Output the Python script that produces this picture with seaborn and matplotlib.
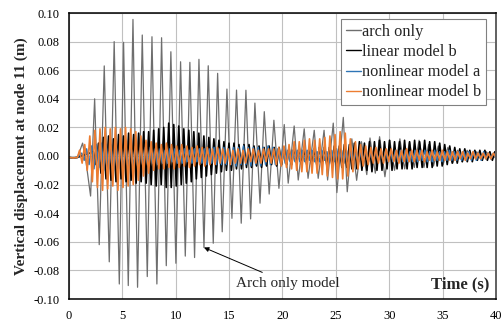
import numpy as np
import pandas as pd
import matplotlib
matplotlib.use("Agg")
import matplotlib.pyplot as plt
import seaborn as sns

# flat part before the excitation starts (shared by all four curves)
flat_t = [0.0, 0.4, 0.8]
flat_v = [-0.001, -0.0014, -0.001]

# arch only: extrema times (s) and values (m)
arch_t = [1.28, 1.6, 2.03, 2.41, 2.84, 3.31, 3.78, 4.24, 4.72, 5.12, 5.56, 6.0,
          6.43, 6.87, 7.34, 7.78, 8.24, 8.68, 9.12, 9.55, 10.02, 10.46, 10.9,
          11.33, 11.77, 12.18, 12.65, 13.05, 13.52, 13.93, 14.36, 14.8, 15.27,
          15.7, 16.14, 16.58, 17.02, 17.42, 17.9, 18.3, 18.76, 19.2, 19.67,
          20.17, 20.54, 21.1, 21.48, 22.04, 22.4, 22.98, 23.35, 23.9, 24.23,
          24.76, 25.1, 25.7, 26.07, 26.5, 26.95, 27.4, 27.9, 28.2, 28.7, 29.1,
          29.6, 30.05, 30.5, 31.0, 31.45, 31.9, 32.35, 32.8, 33.25, 33.7, 34.15,
          34.6, 35.05, 35.5, 35.95, 36.4, 36.85, 37.3, 37.75, 38.2, 38.65, 39.1,
          39.55, 40.0]
arch_v = [0.009, -0.004, -0.028, 0.040, -0.062, 0.063, -0.074, 0.080, -0.0895,
          0.0795, -0.0906, 0.0955, -0.0918, 0.0846, -0.0843, 0.0834, -0.0895,
          0.0827, -0.0767, 0.0729, -0.075, 0.0659, -0.070, 0.0655, -0.071,
          0.0676, -0.064, 0.0631, -0.061, 0.0578, -0.053, 0.0468, -0.0436,
          0.0461, -0.047, 0.046, -0.044, 0.037, -0.033, 0.031, -0.0266, 0.025,
          -0.0226, 0.022, -0.019, 0.021, -0.0168, 0.019, -0.0156, 0.018,
          -0.0156, 0.018, -0.0168, 0.023, -0.0256, 0.027, -0.025, 0.012, -0.017,
          0.010, -0.013, 0.0126, -0.012, 0.0135, -0.0145, 0.011, -0.010, 0.012,
          -0.009, 0.010, -0.008, 0.011, -0.008, 0.008, -0.007, 0.007, -0.006,
          0.006, -0.005, 0.004, -0.004, 0.004, -0.003, 0.003, -0.003, 0.003,
          -0.002, 0.0]

# linear model b: successive extrema between lin_start and lin_end
lin_start, lin_end = 2.3, 39.9
lin_v = [0.003, -0.006, 0.009, -0.012,
         0.013, -0.016, 0.014, -0.017, 0.012, -0.018, 0.015, -0.016, 0.014,
         -0.018, 0.016, -0.017, 0.015, -0.019, 0.016, -0.018, 0.017,
         -0.019, 0.017, -0.020, 0.018, -0.021, 0.019, -0.020, 0.020,
         -0.022, 0.023, -0.022, 0.022, -0.021, 0.021, -0.020, 0.019,
         -0.019, 0.018, -0.018, 0.017, -0.016, 0.016, -0.015,
         0.014, -0.014, 0.013, -0.013, 0.012, -0.012, 0.011, -0.011, 0.010,
         -0.010, 0.009, -0.010, 0.009, -0.009, 0.008, -0.009, 0.008, -0.008,
         0.008, -0.008, 0.007,
         -0.007, 0.007, -0.008, 0.006, -0.007, 0.007, -0.006, 0.006, -0.007,
         0.006, -0.006, 0.006,
         -0.006, 0.005, -0.006, 0.006, -0.005, 0.006, -0.006, 0.005, -0.006,
         0.006, -0.006, 0.005, -0.006, 0.006, -0.005, 0.006, -0.006, 0.006,
         -0.006, 0.007,
         -0.007, 0.007, -0.008, 0.008, -0.008, 0.008, -0.009, 0.009,
         -0.009, 0.010, -0.010, 0.009, -0.010, 0.010, -0.011, 0.010, -0.010,
         0.011, -0.010, 0.010, -0.009, 0.011, -0.010, 0.010, -0.009, 0.010,
         -0.009, 0.011, -0.009, 0.010,
         -0.009, 0.011, -0.008, 0.010, -0.008, 0.011, -0.008, 0.010, -0.008,
         0.010, -0.007, 0.009, -0.007, 0.008, -0.006, 0.007,
         -0.005, 0.006, -0.005, 0.005, -0.004, 0.005, -0.004, 0.004, -0.004,
         0.004, -0.003, 0.004, -0.003, 0.004, -0.003, 0.003, -0.003, 0.003]

# nonlinear model a
nla_start, nla_end = 1.2, 40.0
nla_v = [0.002, -0.003, 0.005, -0.006,
         0.007, -0.009, 0.008, -0.008, 0.009, -0.010, 0.008, -0.009, 0.008,
         -0.010, 0.009, -0.009, 0.008, -0.009, 0.007, -0.008, 0.008, -0.008,
         0.007, -0.007, 0.006, -0.007, 0.006, -0.006, 0.006,
         -0.005, 0.005, -0.006, 0.005, -0.005, 0.004, -0.005, 0.005, -0.004,
         0.005, -0.005, 0.004, -0.005, 0.005, -0.004, 0.004, -0.005, 0.005,
         -0.004, 0.005, -0.005, 0.005, -0.006, 0.005, -0.005, 0.006, -0.006,
         0.005, -0.006, 0.006, -0.006, 0.005,
         -0.006, 0.006, -0.007, 0.006, -0.006, 0.007, -0.006, 0.006, -0.007,
         0.006, -0.006, 0.006, -0.007, 0.006, -0.006, 0.007, -0.006, 0.006,
         -0.006, 0.005, -0.005, 0.005, -0.005, 0.004, -0.004, 0.004, -0.004,
         0.004, -0.004, 0.004,
         -0.004, 0.004, -0.003, 0.004, -0.004, 0.003, -0.004, 0.004, -0.003,
         0.003, -0.004, 0.004, -0.004, 0.005, -0.004, 0.004, -0.005, 0.004,
         -0.004, 0.004, -0.004, 0.003, -0.004, 0.004, -0.003, 0.004, -0.004,
         0.003, -0.004, 0.004, -0.003, 0.004, -0.004, 0.004, -0.004, 0.003,
         -0.004, 0.004, -0.004, 0.004,
         -0.004, 0.004, -0.004, 0.003, -0.004, 0.004, -0.004, 0.004, -0.003,
         0.004, -0.004, 0.003, -0.004, 0.004, -0.003, 0.003, -0.004, 0.003,
         -0.003, 0.004, -0.003, 0.003, -0.003, 0.003, -0.003, 0.003, -0.003,
         0.003, -0.003, 0.003, -0.003, 0.002, -0.003, 0.003, -0.002, 0.002,
         -0.002, 0.002, -0.002]

# nonlinear model b
nlb_start, nlb_end = 1.0, 40.0
nlb_v = [0.004, -0.005, 0.008, -0.010,
         0.014, -0.018, 0.018, -0.022, 0.019, -0.024, 0.020, -0.023, 0.019,
         -0.021, 0.020, -0.024, 0.019, -0.022, 0.020, -0.021, 0.019, -0.020,
         0.017, -0.017, 0.014, -0.014, 0.011, -0.012,
         0.010, -0.010, 0.009, -0.009, 0.008, -0.009, 0.009, -0.008, 0.008,
         -0.009, 0.007, -0.008, 0.008, -0.007, 0.007, -0.008, 0.006, -0.007,
         0.007, -0.006, 0.006, -0.007, 0.006, -0.006, 0.005, -0.006, 0.006,
         -0.005, 0.005,
         -0.005, 0.005, -0.006, 0.004, -0.005, 0.005, -0.005, 0.004, -0.005,
         0.005, -0.004, 0.005, -0.005, 0.004, -0.005, 0.005, -0.004, 0.005,
         -0.005, 0.005, -0.006, 0.006, -0.007, 0.007,
         -0.008, 0.008, -0.009, 0.010, -0.010, 0.010, -0.011, 0.011, -0.011,
         0.012, -0.012, 0.011, -0.012, 0.012, -0.013, 0.013, -0.014, 0.014,
         -0.015, 0.015, -0.016, 0.017, -0.016, 0.016,
         -0.014, 0.012, -0.011, 0.010, -0.009, 0.008, -0.007, 0.007, -0.006,
         0.006, -0.005, 0.006, -0.005, 0.005, -0.005, 0.005,
         -0.004, 0.005, -0.004, 0.004, -0.005, 0.004, -0.004, 0.005, -0.004,
         0.004, -0.004, 0.004, -0.003, 0.004, -0.004, 0.003, -0.003, 0.004,
         -0.003, 0.003, -0.003, 0.004, -0.003, 0.003, -0.003, 0.003, -0.003,
         0.003, -0.002, 0.003, -0.003, 0.002, -0.002, 0.003, -0.002, 0.002,
         -0.002, 0.002, -0.002, 0.002, -0.002, 0.002, -0.001]

names = ["arch only", "linear model b", "nonlinear model a", "nonlinear model b"]
colors = ["#6E6E6E", "#000000", "#2E75B6", "#ED7D31"]
widths = [0.9, 1.2, 1.1, 1.2]
x_ticks = [0, 5, 10, 15, 20, 25, 30, 35, 40]
y_ticks = [-0.10, -0.08, -0.06, -0.04, -0.02, 0.00, 0.02, 0.04, 0.06, 0.08, 0.10]


def series(name, t, v):
    return pd.DataFrame({"time": flat_t + list(t), "disp": flat_v + list(v),
                         "model": name})


frames = [
    series(names[0], arch_t, arch_v),
    series(names[1], np.linspace(lin_start, lin_end, len(lin_v)), lin_v),
    series(names[2], np.linspace(nla_start, nla_end, len(nla_v)), nla_v),
    series(names[3], np.linspace(nlb_start, nlb_end, len(nlb_v)), nlb_v),
]

sns.set_style("white")
plt.rcParams["font.family"] = ["Liberation Serif", "DejaVu Serif"]
plt.rcParams["axes.unicode_minus"] = False

fig = plt.figure(figsize=(5.03, 3.25), dpi=100)
ax = fig.add_axes([0.137, 0.08, 0.849, 0.88])

for df, c, w in zip(frames, colors, widths):
    sns.lineplot(data=df, x="time", y="disp", color=c, linewidth=w,
                 label=df["model"].iloc[0], estimator=None, sort=False, ax=ax)

ax.set_xlim(0, 40)
ax.set_ylim(-0.10, 0.10)
ax.set_xticks(x_ticks)
ax.set_yticks(y_ticks)
ax.set_yticklabels([f"{v:.2f}" for v in y_ticks])
ax.grid(True, color="#c0c0c0", linewidth=0.8)
ax.set_axisbelow(True)
ax.tick_params(length=0, labelsize=9, colors="black")
ax.tick_params(axis="x", pad=8)
ax.tick_params(axis="y", pad=7)
ax.set_xlabel("")
ax.set_ylabel("Vertical displacement at node 11 (m)", fontsize=11,
              fontweight="bold", labelpad=4)

for side in ["left", "bottom", "top"]:
    ax.spines[side].set_color("black")
    ax.spines[side].set_linewidth(1.1)
ax.spines["right"].set_color("#606060")
ax.spines["right"].set_linewidth(1.4)

ax.text(0.985, 0.05, "Time (s)", transform=ax.transAxes, ha="right",
        va="center", fontsize=12, fontweight="bold")

ax.annotate("Arch only model", xy=(12.65, -0.064), xytext=(20.5, -0.089),
            ha="center", va="center", fontsize=11,
            arrowprops=dict(arrowstyle="-|>", color="black", lw=0.7,
                            mutation_scale=7, shrinkA=2, shrinkB=0))

leg = ax.legend(loc="upper right", bbox_to_anchor=(0.984, 0.99), fontsize=11.8,
                handlelength=0.9, handletextpad=0.05, borderpad=0.3,
                labelspacing=0.25, fancybox=False, framealpha=1,
                edgecolor="#808080", borderaxespad=0.2)
leg.get_frame().set_linewidth(0.8)
for line in leg.get_lines():
    line.set_linewidth(1.0)

fig.savefig("out.png", dpi=100)
